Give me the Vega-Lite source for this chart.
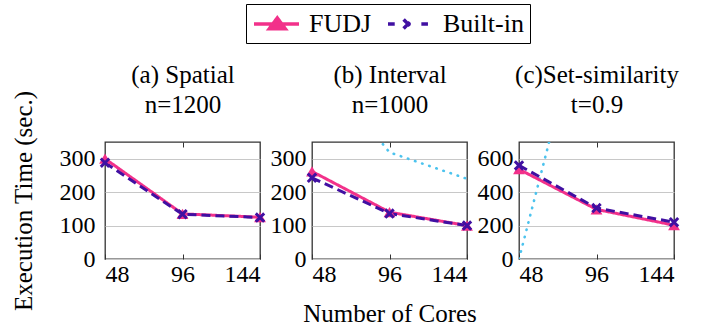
{
  "$schema": "https://vega.github.io/schema/vega-lite/v6.json",
  "background": "white",
  "padding": {"left": 10, "top": 3, "right": 5, "bottom": 5},
  "spacing": 52,
  "bounds": "flush",
  "config": {
    "view": {"stroke": "#333333", "strokeWidth": 1.3},
    "axis": {
      "labelFontSize": 24, "labelColor": "black",
      "titleFontSize": 25, "titleFontWeight": "normal", "titleColor": "black",
      "domain": false, "gridColor": "#c8c8c8", "gridWidth": 1.2, "tickColor": "#333333"
    }
  },
  "data": {"values": [
    {"panel": "a", "series": "FUDJ", "cores": 48, "time": 300},
    {"panel": "a", "series": "FUDJ", "cores": 96, "time": 135},
    {"panel": "a", "series": "FUDJ", "cores": 144, "time": 125},
    {"panel": "a", "series": "Built-in", "cores": 48, "time": 288},
    {"panel": "a", "series": "Built-in", "cores": 96, "time": 134},
    {"panel": "a", "series": "Built-in", "cores": 144, "time": 124},
    {"panel": "b", "series": "FUDJ", "cores": 48, "time": 262},
    {"panel": "b", "series": "FUDJ", "cores": 96, "time": 140},
    {"panel": "b", "series": "FUDJ", "cores": 144, "time": 100},
    {"panel": "b", "series": "Built-in", "cores": 48, "time": 243},
    {"panel": "b", "series": "Built-in", "cores": 96, "time": 136},
    {"panel": "b", "series": "Built-in", "cores": 144, "time": 100},
    {"panel": "b", "series": "Other", "cores": 48, "time": 605},
    {"panel": "b", "series": "Other", "cores": 96, "time": 319},
    {"panel": "b", "series": "Other", "cores": 144, "time": 240},
    {"panel": "c", "series": "FUDJ", "cores": 48, "time": 537},
    {"panel": "c", "series": "FUDJ", "cores": 96, "time": 297},
    {"panel": "c", "series": "FUDJ", "cores": 144, "time": 202},
    {"panel": "c", "series": "Built-in", "cores": 48, "time": 560},
    {"panel": "c", "series": "Built-in", "cores": 96, "time": 305},
    {"panel": "c", "series": "Built-in", "cores": 144, "time": 220},
    {"panel": "c", "series": "Other", "cores": 48, "time": 0},
    {"panel": "c", "series": "Other", "cores": 96, "time": 1800}
  ]},
  "resolve": {"scale": {"x": "independent", "y": "independent"}},
  "hconcat": [
    {
      "width": 155, "height": 117,
      "transform": [{"filter": "datum.panel === 'a'"}],
      "encoding": {
        "y": {"field": "time", "type": "quantitative", "scale": {"domain": [0, 350], "nice": false},
              "axis": {"values": [0, 100, 200, 300], "title": "Execution Time (sec.)", "ticks": false, "labelPadding": 10, "titlePadding": 23, "labelFont": "Liberation Serif", "titleFont": "Liberation Serif"}}
      },
      "resolve": {"axis": {"x": "independent"}},
      "layer": [
        {
          "transform": [{"filter": "datum.series !== 'Other'"}],
          "mark": {"type": "line", "strokeWidth": 3, "clip": true},
          "encoding": {
            "x": {"field": "cores", "type": "quantitative", "scale": {"domain": [48, 144], "nice": false, "zero": false},
                  "axis": {"values": [48, 96, 144], "title": null, "grid": false, "tickSize": -5, "labelPadding": 8, "labelFont": "Liberation Serif"}},
            "color": {"field": "series", "type": "nominal",
                      "scale": {"domain": ["FUDJ", "Built-in"], "range": ["#f2318a", "#4010a2"]},
                      "legend": {
                        "title": null, "orient": "none", "direction": "horizontal", "legendX": 141, "legendY": -138,
                        "labelFont": "Liberation Serif", "labelFontSize": 26, "labelColor": "black",
                        "labelOffset": 29, "columnPadding": 9, "padding": 6,
                        "strokeColor": "black", "fillColor": "white", "symbolSize": 576, "symbolStrokeWidth": 3,
                        "encode": {
                          "labels": {"update": {"font": {"value": "Liberation Serif"}}},
                          "symbols": {"update": {
                          "shape": {"signal": "datum.value === 'FUDJ' ? 'M-1,0H2.75M0.94,-0.5L1.61,0.4L0.27,0.4Z' : 'M-1,0H-0.44M1.78,0H2.33M0.3,-0.38L1.04,0.38M0.3,0.38L1.04,-0.38'"},
                          "fill": {"scale": "color", "field": "value"},
                          "stroke": {"scale": "color", "field": "value"},
                          "strokeWidth": {"value": 3.5},
                          "size": {"value": 576},
                          "opacity": {"value": 1},
                          "fillOpacity": {"value": 1},
                          "strokeDash": {"value": [1, 0]}
                        }}}
                      }},
            "strokeDash": {"field": "series", "type": "nominal", "scale": {"domain": ["FUDJ", "Built-in"], "range": [[1, 0], [9, 5]]}, "legend": null}
          }
        },
        {
          "transform": [{"filter": "datum.series === 'FUDJ'"}],
          "mark": {"type": "point", "filled": true, "opacity": 1, "size": 140, "shape": "triangle-up"},
          "encoding": {
            "x": {"field": "cores", "type": "quantitative", "scale": {"domain": [48, 144], "nice": false, "zero": false},
                  "axis": {"orient": "top", "values": [96], "labels": false, "grid": false, "tickSize": -5,
                           "title": ["(a) Spatial", "n=1200"], "titleFont": "Liberation Serif", "titleFontSize": 25, "titleLineHeight": 30, "titlePadding": 24}},
            "color": {"field": "series", "type": "nominal"}
          }
        },
        {
          "transform": [{"filter": "datum.series === 'Built-in'"}],
          "mark": {"type": "point", "filled": true, "opacity": 1, "size": 110, "shape": "M-1,-0.6L-0.6,-1L0,-0.4L0.6,-1L1,-0.6L0.4,0L1,0.6L0.6,1L0,0.4L-0.6,1L-1,0.6L-0.4,0Z"},
          "encoding": {
            "x": {"field": "cores", "type": "quantitative", "scale": {"domain": [48, 144], "nice": false, "zero": false}, "axis": null},
            "color": {"field": "series", "type": "nominal"}
          }
        }
      ]
    },
    {
      "width": 155, "height": 117,
      "transform": [{"filter": "datum.panel === 'b'"}],
      "encoding": {
        "y": {"field": "time", "type": "quantitative", "scale": {"domain": [0, 350], "nice": false},
              "axis": {"values": [0, 100, 200, 300], "title": null, "ticks": false, "labelPadding": 6, "labelFont": "Liberation Serif"}}
      },
      "resolve": {"axis": {"x": "independent"}},
      "layer": [
        {
          "transform": [{"filter": "datum.series === 'Other'"}],
          "mark": {"type": "line", "color": "#4cc3ee", "strokeWidth": 2.6, "strokeDash": [0.5, 7], "strokeCap": "round", "clip": true},
          "encoding": {
            "x": {"field": "cores", "type": "quantitative", "scale": {"domain": [48, 144], "nice": false, "zero": false}, "axis": null}
          }
        },
        {
          "transform": [{"filter": "datum.series !== 'Other'"}],
          "mark": {"type": "line", "strokeWidth": 3, "clip": true},
          "encoding": {
            "x": {"field": "cores", "type": "quantitative", "scale": {"domain": [48, 144], "nice": false, "zero": false},
                  "axis": {"values": [48, 96, 144], "title": "Number of Cores", "grid": false, "tickSize": -5, "labelPadding": 8, "titlePadding": 15, "labelFont": "Liberation Serif", "titleFont": "Liberation Serif"}},
            "color": {"field": "series", "type": "nominal"},
            "strokeDash": {"field": "series", "type": "nominal", "legend": null}
          }
        },
        {
          "transform": [{"filter": "datum.series === 'FUDJ'"}],
          "mark": {"type": "point", "filled": true, "opacity": 1, "size": 140, "shape": "triangle-up"},
          "encoding": {
            "x": {"field": "cores", "type": "quantitative", "scale": {"domain": [48, 144], "nice": false, "zero": false},
                  "axis": {"orient": "top", "values": [96], "labels": false, "grid": false, "tickSize": -5,
                           "title": ["(b) Interval", "n=1000"], "titleFont": "Liberation Serif", "titleFontSize": 25, "titleLineHeight": 30, "titlePadding": 24}},
            "color": {"field": "series", "type": "nominal"}
          }
        },
        {
          "transform": [{"filter": "datum.series === 'Built-in'"}],
          "mark": {"type": "point", "filled": true, "opacity": 1, "size": 110, "shape": "M-1,-0.6L-0.6,-1L0,-0.4L0.6,-1L1,-0.6L0.4,0L1,0.6L0.6,1L0,0.4L-0.6,1L-1,0.6L-0.4,0Z"},
          "encoding": {
            "x": {"field": "cores", "type": "quantitative", "scale": {"domain": [48, 144], "nice": false, "zero": false}, "axis": null},
            "color": {"field": "series", "type": "nominal"}
          }
        }
      ]
    },
    {
      "width": 155, "height": 117,
      "transform": [{"filter": "datum.panel === 'c'"}],
      "encoding": {
        "y": {"field": "time", "type": "quantitative", "scale": {"domain": [0, 700], "nice": false},
              "axis": {"values": [0, 200, 400, 600], "title": null, "ticks": false, "labelPadding": 6, "labelFont": "Liberation Serif"}}
      },
      "resolve": {"axis": {"x": "independent"}},
      "layer": [
        {
          "transform": [{"filter": "datum.series === 'Other'"}],
          "mark": {"type": "line", "color": "#4cc3ee", "strokeWidth": 2.6, "strokeDash": [0.5, 7], "strokeCap": "round", "clip": true},
          "encoding": {
            "x": {"field": "cores", "type": "quantitative", "scale": {"domain": [48, 144], "nice": false, "zero": false}, "axis": null}
          }
        },
        {
          "transform": [{"filter": "datum.series !== 'Other'"}],
          "mark": {"type": "line", "strokeWidth": 3, "clip": true},
          "encoding": {
            "x": {"field": "cores", "type": "quantitative", "scale": {"domain": [48, 144], "nice": false, "zero": false},
                  "axis": {"values": [48, 96, 144], "title": null, "grid": false, "tickSize": -5, "labelPadding": 8, "labelFont": "Liberation Serif"}},
            "color": {"field": "series", "type": "nominal"},
            "strokeDash": {"field": "series", "type": "nominal", "legend": null}
          }
        },
        {
          "transform": [{"filter": "datum.series === 'FUDJ'"}],
          "mark": {"type": "point", "filled": true, "opacity": 1, "size": 140, "shape": "triangle-up"},
          "encoding": {
            "x": {"field": "cores", "type": "quantitative", "scale": {"domain": [48, 144], "nice": false, "zero": false},
                  "axis": {"orient": "top", "values": [96], "labels": false, "grid": false, "tickSize": -5,
                           "title": ["(c)Set-similarity", "t=0.9"], "titleFont": "Liberation Serif", "titleFontSize": 25, "titleLineHeight": 30, "titlePadding": 24}},
            "color": {"field": "series", "type": "nominal"}
          }
        },
        {
          "transform": [{"filter": "datum.series === 'Built-in'"}],
          "mark": {"type": "point", "filled": true, "opacity": 1, "size": 110, "shape": "M-1,-0.6L-0.6,-1L0,-0.4L0.6,-1L1,-0.6L0.4,0L1,0.6L0.6,1L0,0.4L-0.6,1L-1,0.6L-0.4,0Z"},
          "encoding": {
            "x": {"field": "cores", "type": "quantitative", "scale": {"domain": [48, 144], "nice": false, "zero": false}, "axis": null},
            "color": {"field": "series", "type": "nominal"}
          }
        }
      ]
    }
  ]
}
